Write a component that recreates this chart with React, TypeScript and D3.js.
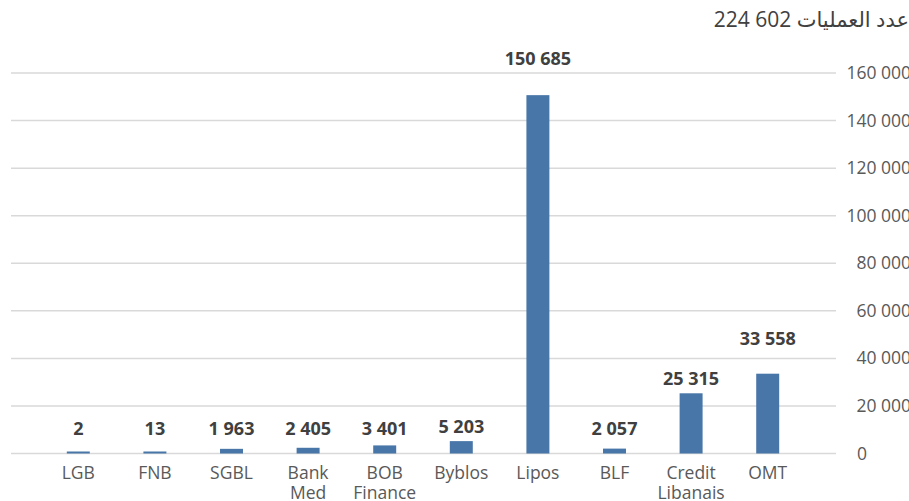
import React from 'react';
import * as d3 from 'd3';

// bank / operator names, as printed under the bars
const categories = [
  ['LGB'],
  ['FNB'],
  ['SGBL'],
  ['Bank', 'Med'],
  ['BOB', 'Finance'],
  ['Byblos'],
  ['Lipos'],
  ['BLF'],
  ['Credit', 'Libanais'],
  ['OMT'],
];

// number of operations per bank
const operations = [2, 13, 1963, 2405, 3401, 5203, 150685, 2057, 25315, 33558];

const yTicks = [0, 20000, 40000, 60000, 80000, 100000, 120000, 140000, 160000];

const titleLabel = 'عدد العمليات';

const W = 909;
const H = 501;

const fmt = (v: number) => d3.format(',')(v).replace(/,/g, ' ');

const App: React.FC = () => {
  const x = d3
    .scaleBand<number>()
    .domain(categories.map((_, i) => i))
    .range([40, 806])
    .paddingInner(0.7)
    .paddingOuter(0.35);

  const y = d3.scaleLinear().domain([0, 160000]).range([453.5, 73]);

  const total = d3.sum(operations);
  const font = "'Open Sans', 'DejaVu Sans', sans-serif";

  // labels that were moved up by hand in the original chart
  const lift: Record<string, number> = { Lipos: 22, OMT: 20 };

  return (
    <svg
      width={W}
      height={H}
      style={{ position: 'absolute', left: 0, top: 0, background: '#fff' }}
      fontFamily={font}
    >
      <text x={909} y={27} textAnchor="end" fontSize={21} fill="#404040">
        {fmt(total)} {titleLabel}
      </text>

      {/* gridlines */}
      {yTicks.map((t) => (
        <line
          key={'g' + t}
          x1={11}
          x2={836}
          y1={y(t)}
          y2={y(t)}
          stroke="#d9d9d9"
          strokeWidth={1.5}
        />
      ))}

      {/* right axis labels */}
      {yTicks.map((t) => (
        <text
          key={'t' + t}
          x={t === 0 ? 857 : 911}
          y={y(t) + 6}
          textAnchor={t === 0 ? 'start' : 'end'}
          fontSize={17.5}
          fill="#595959"
        >
          {fmt(t)}
        </text>
      ))}

      {/* bars */}
      {operations.map((v, i) => {
        const top = Math.min(y(v), y(0) - 2);
        return (
          <rect
            key={'b' + i}
            x={x(i)}
            y={top}
            width={x.bandwidth()}
            height={y(0) - top}
            fill="#4876a8"
          />
        );
      })}

      {/* value labels */}
      {operations.map((v, i) => {
        const cx = (x(i) as number) + x.bandwidth() / 2;
        const name = categories[i][0];
        const ly = Math.min(y(v) - 15, 428) - (lift[name] || 0);
        return (
          <text
            key={'v' + i}
            x={cx}
            y={ly + 6.5}
            textAnchor="middle"
            fontSize={18}
            fontWeight="bold"
            fill="#404040"
          >
            {fmt(v)}
          </text>
        );
      })}

      {/* category labels */}
      {categories.map((lines, i) => {
        const cx = (x(i) as number) + x.bandwidth() / 2;
        return (
          <text key={'c' + i} textAnchor="middle" fontSize={17.5} fill="#595959">
            {lines.map((l, j) => (
              <tspan key={j} x={cx} y={479 + j * 20}>
                {l}
              </tspan>
            ))}
          </text>
        );
      })}
    </svg>
  );
};

export default App;
